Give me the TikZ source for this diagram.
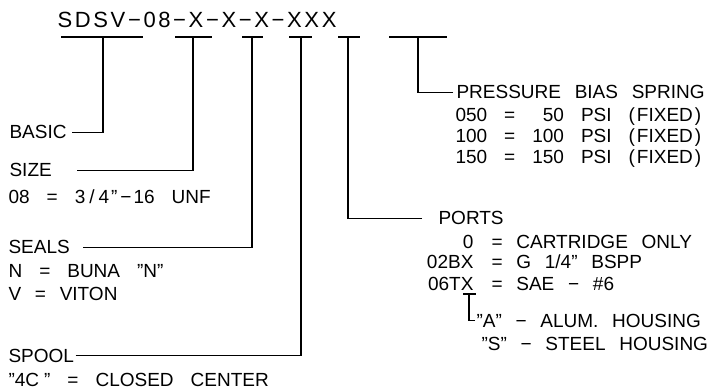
\documentclass[tikz,border=0pt]{standalone}
\usepackage{fontspec}
\setmainfont[WordSpace=2.6]{Liberation Sans}
\newfontfamily\codefont[LetterSpace=12]{Liberation Sans}
\newcommand\lblfont{\fontsize{19}{21}\selectfont}
\newcommand\rowfont{\fontsize{19}{21}\selectfont\spaceskip 17pt\relax}
\newcommand\fixd{(\kern2pt FIXED\kern2pt)}

\begin{document}
\begin{tikzpicture}[x=1pt,y=-1pt,line width=1.1pt,
  lbl/.style={anchor=base west,inner sep=0pt,font=\lblfont},
  row/.style={lbl,font=\rowfont},
  code/.style={lbl,anchor=base east}]
\useasboundingbox (0,0) rectangle (712,390);
% model code
\node[lbl,font=\codefont\fontsize{22}{24}\selectfont] (model) at (57,28) {SDSV−08−X−X−X−XXX};
% bars under the code
\coordinate (t1) at (103,37);
\coordinate (t2) at (193,37);
\coordinate (t3) at (252,37);
\coordinate (t4) at (301,37);
\coordinate (t5) at (348,37);
\coordinate (t6) at (418,37);
\draw (61,37) -- (143,37);
\draw (175,37) -- (212,37);
\draw (242,37) -- (263,37);
\draw (289,37) -- (312,37);
\draw (338,37) -- (360,37);
\draw (389,37) -- (447,37);
% left column
\node[lbl] (basic) at (9,139) {BASIC};
\node[lbl] (size) at (9,177) {SIZE};
\node[row] (size08) at (8,204) {08 = 3\kern4pt/\kern4pt4\kern2pt”\kern3pt−\kern2pt16 UNF};
\node[lbl] (seals) at (8,254) {SEALS};
\node[row] (sealn) at (8,277) {N = BUNA ”N”};
\node[lbl] (sealv) at (8,300) {V = VITON};
\node[lbl] (spool) at (8,362) {SPOOL};
\node[row] (spool4c) at (8,386) {”4C\kern5pt” = CLOSED CENTER};
% pressure spring
\node[lbl] (spring) at (456,99) {PRESSURE BIAS SPRING};
\node[row] (s050) at (455,122) {050 = \phantom{1}50 PSI \fixd};
\node[row] (s100) at (455,143) {100 = 100 PSI \fixd};
\node[row] (s150) at (455,164) {150 = 150 PSI \fixd};
% ports
\node[lbl] (ports) at (438,225) {PORTS};
\node[code] (p0) at (474,248) {0};
\node[lbl] (p0d) at (491,248) {= CARTRIDGE ONLY};
\node[code] (p02) at (474,269) {02BX};
\node[lbl] (p02d) at (491,269) {= G 1/4” BSPP};
\node[code] (p06) at (474,290) {06TX};
\node[lbl] (p06d) at (491,290) {= SAE − \#6};
\coordinate (t7) at (469,294);
\draw (463,294) -- (476,294);
\node[lbl] (alum) at (476,327) {”A” − ALUM. HOUSING};
\node[lbl] (steel) at (481,350) {”S” − STEEL HOUSING};
% leaders
\draw ([xshift=5pt]basic.east) -| (t1);
\draw ([xshift=25pt]size.east) -| (t2);
\draw ([xshift=13pt]seals.east) -| (t3);
\draw ([xshift=1pt]spool.east) -| (t4);
\draw ([xshift=-16pt]ports.west) -| (t5);
\draw ([xshift=-3pt]spring.west) -| (t6);
\draw ([xshift=-1pt]alum.west) -| (t7);
\end{tikzpicture}
\end{document}
